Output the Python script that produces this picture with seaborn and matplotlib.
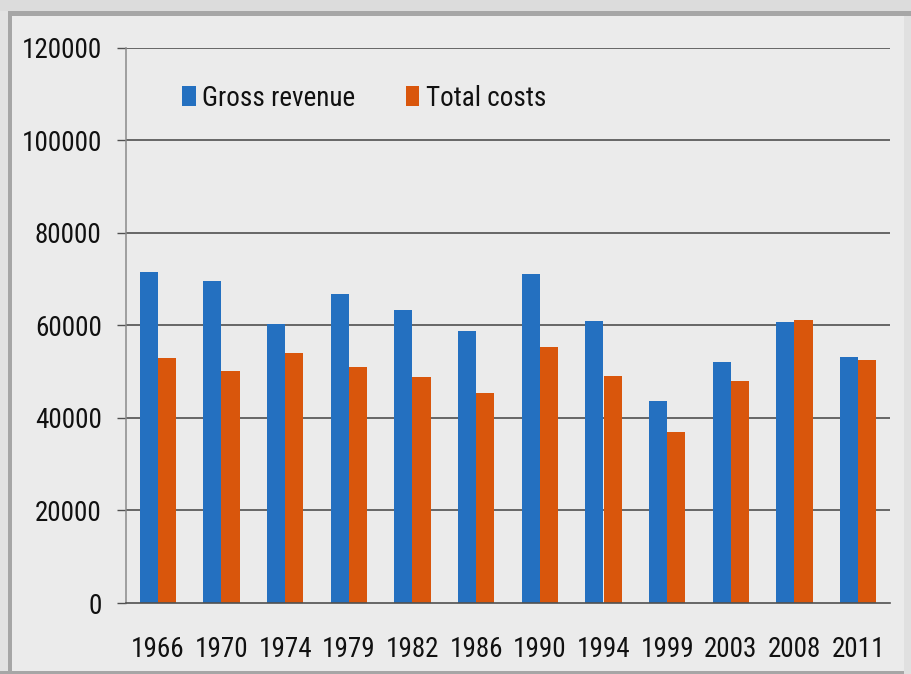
import matplotlib
matplotlib.use("Agg")
import matplotlib.pyplot as plt
from matplotlib.patches import Rectangle
from matplotlib import font_manager
import seaborn as sns
import pandas as pd
import numpy as np

years = ["1966", "1970", "1974", "1979", "1982", "1986", "1990", "1994", "1999", "2003", "2008", "2011"]
gross_revenue = [71500, 69600, 60300, 66800, 63300, 58800, 71100, 61000, 43700, 52100, 60700, 53200]
total_costs = [53000, 50200, 54000, 51000, 48900, 45400, 55300, 49100, 37000, 48000, 61200, 52500]
series_names = ["Gross revenue", "Total costs"]
y_ticks = [0, 20000, 40000, 60000, 80000, 100000, 120000]

df = pd.DataFrame({
    "year": years * 2,
    "value": gross_revenue + total_costs,
    "series": [series_names[0]] * len(years) + [series_names[1]] * len(years),
})

sns.set_theme(style="white")


def has_font(name, stretch="normal"):
    try:
        p = font_manager.findfont(font_manager.FontProperties(family=name, stretch=stretch),
                                  fallback_to_default=False)
        return p
    except Exception:
        return None


font_choice = None
for fam, size in [("Liberation Sans Narrow", 20), ("Roboto Condensed", 19.5)]:
    if has_font(fam):
        font_choice = (fam, size, "normal")
        break
if font_choice is None:
    p = has_font("DejaVu Sans", "condensed")
    if p and "Condensed" in p:
        font_choice = ("DejaVu Sans", 16, "condensed")
    else:
        font_choice = ("DejaVu Sans", 14.5, "normal")

fam, FS, stretch = font_choice
plt.rcParams["font.family"] = [fam, "DejaVu Sans"]
plt.rcParams["font.stretch"] = stretch

W, H = 912, 674
fig = plt.figure(figsize=(W / 100, H / 100), dpi=100, facecolor="#ebebeb")

# outer frame look
fig.add_artist(Rectangle((0, 1 - 11 / H), 1, 11 / H, transform=fig.transFigure,
                         facecolor="#dcdcdc", edgecolor="none", zorder=0))
fig.add_artist(Rectangle((0, 1 - 16 / H), 1, 5 / H, transform=fig.transFigure,
                         facecolor="#a6a6a6", edgecolor="none", zorder=0))
fig.add_artist(Rectangle((0, 0), 8 / W, 1 - 11 / H, transform=fig.transFigure,
                         facecolor="#e2e2e2", edgecolor="none", zorder=0))
fig.add_artist(Rectangle((8 / W, 0), 4 / W, 1 - 11 / H, transform=fig.transFigure,
                         facecolor="#a6a6a6", edgecolor="none", zorder=0))
fig.add_artist(Rectangle((0, 0), 1, 3 / H, transform=fig.transFigure,
                         facecolor="#a6a6a6", edgecolor="none", zorder=0))
fig.add_artist(Rectangle((1 - 8 / W, 0), 8 / W, 1 - 16 / H, transform=fig.transFigure,
                         facecolor="#e0e0e0", edgecolor="none", zorder=0))

left, right, bottom, top = 126 / W, 890 / W, 1 - 603 / H, 1 - 47.7 / H
ax = fig.add_axes([left, bottom, right - left, top - bottom])
ax.set_facecolor("#ebebeb")

sns.barplot(data=df, x="year", y="value", hue="series", order=years,
            hue_order=series_names, palette=["#2470c0", "#d9560c"],
            width=0.57, linewidth=0, saturation=1, ax=ax, zorder=3)

ax.set_ylim(0, 120000)
ax.set_xlim(-0.5, len(years) - 0.5)
ax.set_yticks(y_ticks)
ax.set_yticklabels([str(v) for v in y_ticks])
ax.set_xlabel("")
ax.set_ylabel("")

for v in y_ticks[1:]:
    ax.axhline(v, color="#505050", lw=1.2, zorder=1)

ax.set_xticks(np.arange(-0.5, len(years), 1.0), minor=True)
ax.tick_params(axis="x", which="major", length=0, pad=24, labelsize=FS, colors="#111111")
ax.tick_params(axis="x", which="minor", length=6.5, width=1, color="#7a7a7a", direction="out")
ax.tick_params(axis="y", which="major", length=6.5, width=1, color="#505050", pad=11,
               labelsize=FS, left=True, direction="out")
for lbl in ax.get_yticklabels() + ax.get_xticklabels():
    lbl.set_color("#111111")

for s in ["top", "right"]:
    ax.spines[s].set_visible(False)
ax.spines["left"].set_color("#8a8a8a")
ax.spines["left"].set_linewidth(1.1)
ax.spines["bottom"].set_color("#505050")
ax.spines["bottom"].set_linewidth(1.2)
ax.spines["bottom"].set_zorder(4)

leg = ax.legend(loc="center left", bbox_to_anchor=((182 - 126) / 764, (603 - 98) / 555.3),
                ncol=2, frameon=False, fontsize=FS, handlelength=0.5, handleheight=0.75,
                handletextpad=0.25, columnspacing=1.85, borderaxespad=0, borderpad=0)
for t in leg.get_texts():
    t.set_color("#111111")

fig.savefig("out.png", dpi=100, facecolor=fig.get_facecolor())
